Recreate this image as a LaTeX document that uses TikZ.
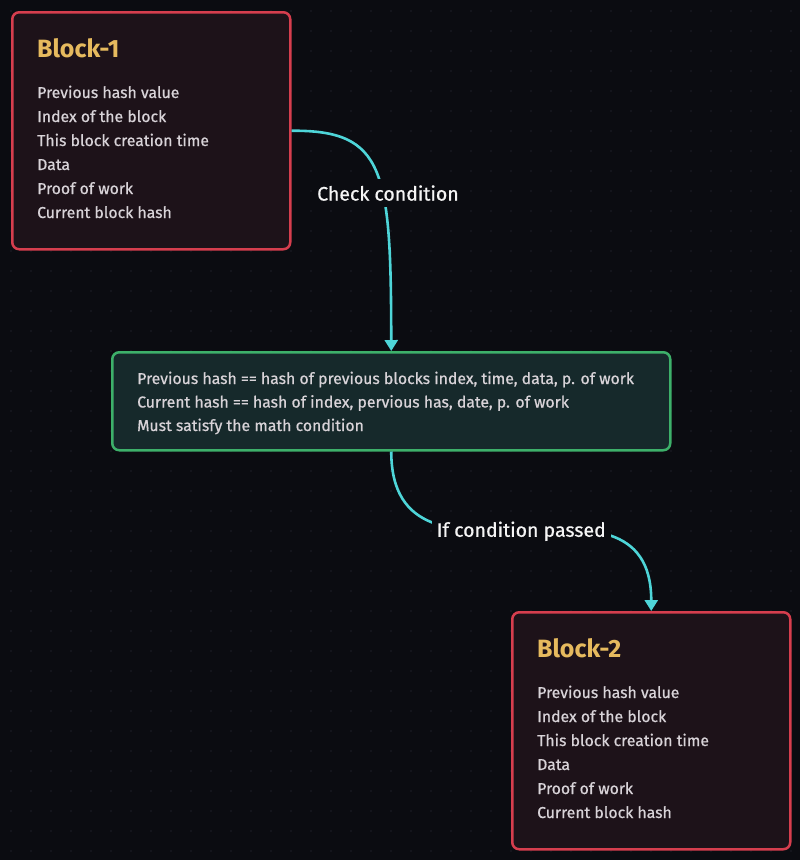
\documentclass[tikz,border=0pt]{standalone}
\usepackage{fontspec}
\setmainfont{Fira Sans}
\newfontfamily\mediumfont{Fira Sans}[FakeBold=0.7]
\usepackage{xcolor}
\usetikzlibrary{arrows.meta, positioning}

\definecolor{bgdark}{HTML}{0B0C11}
\definecolor{griddot}{HTML}{1E2029}
\definecolor{blockfill}{HTML}{1D1219}
\definecolor{blockred}{HTML}{D63E4E}
\definecolor{condfill}{HTML}{16292B}
\definecolor{condgreen}{HTML}{3DB06A}
\definecolor{linkcyan}{HTML}{4ED5D8}
\definecolor{titlegold}{HTML}{E6BA5E}
\definecolor{bodytext}{HTML}{D8D3D8}

\begin{document}
\begin{tikzpicture}[x=1pt, y=-1pt,
    block/.style={draw=blockred, fill=blockfill, line width=2.5pt, rounded corners=7pt,
        anchor=north west, minimum width=278pt, minimum height=237pt, inner sep=0pt},
    condbox/.style={draw=condgreen, fill=condfill, line width=2.5pt, rounded corners=7pt,
        anchor=north west, minimum width=558pt, minimum height=98pt, inner sep=0pt},
    title/.style={anchor=base west, inner sep=0pt, text=titlegold, font=\fontsize{25}{28}\selectfont\bfseries},
    txt/.style={anchor=base west, inner sep=0pt, text=bodytext, font=\mediumfont\fontsize{15.8}{18}\selectfont},
    lbl/.style={fill=bgdark, text=white!92!gray, inner xsep=5pt, inner ysep=6pt, font=\mediumfont\fontsize{19.5}{22}\selectfont},
    link/.style={draw=linkcyan, line width=2.6pt, -{Triangle[width=13pt, length=11pt]}}]
    % background and dot grid
    \fill[bgdark] (0, 0) rectangle (800, 860);
    \foreach \i in {0,...,39}
        \foreach \j in {0,...,42}
            \fill[griddot] (11+20*\i, 11+20*\j) circle (0.9);
    % blocks
    \node[block] (b1) at (11, 11) {};
    \node[title] (b1t) at (37, 57) {Block-1};
    \foreach \t [count=\i] in {Previous hash value, Index of the block, This block creation time, Data, Proof of work, Current block hash}
        \node[txt] (b1l\i) at (37, 74+24*\i) {\t};
    \node[block] (b2) at (511, 611) {};
    \node[title] (b2t) at (537, 657) {Block-2};
    \foreach \t [count=\i] in {Previous hash value, Index of the block, This block creation time, Data, Proof of work, Current block hash}
        \node[txt] (b2l\i) at (537, 674+24*\i) {\t};
    % condition
    \node[condbox] (cond) at (111, 351) {};
    \node[txt] (c1) at (137, 384) {Previous hash == hash of previous blocks index, time, data, p. of work};
    \node[txt] (c2) at (137, 407.5) {Current hash == hash of index, pervious has, date, p. of work};
    \node[txt] (c3) at (137, 431) {Must satisfy the math condition};
    % connectors
    \draw[link] (b1.east) .. controls (385, 130) and (391, 170) .. node[lbl, pos=0.6, xshift=5pt, yshift=2pt] (chk) {Check condition} (cond.north);
    \draw[link] (cond.south) .. controls +(0, 164) and +(0, -164) .. node[lbl] (pass) {If condition passed} (b2.north);
\end{tikzpicture}
\end{document}
